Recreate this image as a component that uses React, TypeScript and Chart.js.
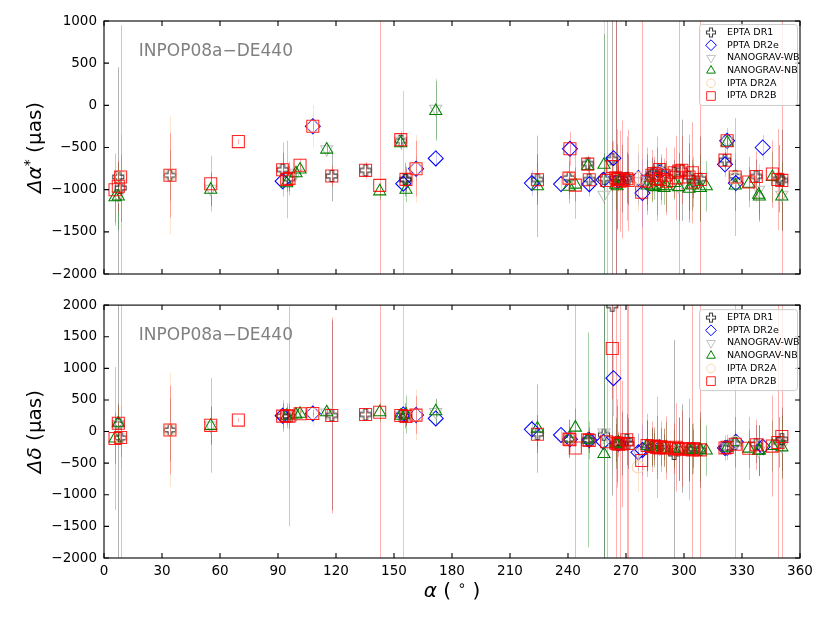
import React, { useEffect, useRef } from "react";
import { Chart, registerables } from "chart.js";
import { drawPoint } from "chart.js/helpers";

Chart.register(...registerables);

// right ascension (deg), delta alpha* / delta delta (uas) and 1-sigma errors per PTA

const raEPTA = [7.4, 8.6, 34.1, 92.4, 95.7, 117.8, 135.3, 153.5, 155.7, 156.2, 224.2, 240.5, 250.2, 251.0, 258.6, 262.9, 264.7, 266.1, 267.9, 270.4, 271.1, 280.9, 283.4, 284.4, 287.4, 287.9, 289.7, 294.9, 298.9, 302.6, 304.9, 308.4, 321.2, 326.5, 337.4, 349.3, 350.6];
const daEPTA = [-850, -980, -830, -763, -870, -838, -771, -420, -880, -880, -880, -860, -690, -880, -870, -640, -860, -860, -870, -860, -880, -880, -820, -800, -760, -870, -830, -800, -770, -850, -900, -870, -650, -840, -843, -870, -890];
const daErrEPTA = [1300, 400, 300, 200, 150, 300, 80, 80, 200, 150, 300, 200, 80, 150, 300, 1700, 2000, 100, 400, 300, 300, 300, 200, 150, 40, 250, 150, 150, 600, 400, 200, 500, 100, 200, 200, 400, 600];
const ddEPTA = [120, -100, 25, 244, 240, 255, 270, 260, 250, 240, -40, -120, -130, -140, -50, 1990, -180, -200, -190, -130, -190, -220, -240, -230, -260, -240, -250, -355, -270, -280, -270, -290, -260, -190, -200, -170, -120];
const ddErrEPTA = [4000, 300, 500, 200, 200, 1500, 80, 80, 200, 150, 300, 200, 100, 200, 4000, 3000, 300, 100, 500, 400, 400, 400, 300, 200, 40, 300, 200, 1800, 700, 500, 300, 600, 100, 200, 300, 400, 500];

const raPPTA = [92.4, 108.0, 154.8, 161.4, 171.6, 221.3, 236.4, 241.0, 251.0, 258.3, 263.5, 266.1, 276.4, 278.5, 287.4, 321.2, 322.3, 326.8, 340.7];
const daPPTA = [-900, -249, -929, -751, -630, -922, -934, -515, -935, -883, -626, -890, -863, -1040, -800, -700, -421, -922, -500];
const daErrPPTA = [100, 30, 1100, 150, 100, 150, 100, 50, 100, 40, 200, 40, 300, 400, 20, 50, 50, 50, 150];
const ddPPTA = [250, 286, 270, 260, 208, 36, -53, -120, -135, -160, 844, -190, -328, -290, -250, -260, -255, -162, -240];
const ddErrPPTA = [100, 30, 3000, 150, 100, 150, 100, 50, 100, 40, 600, 40, 300, 400, 20, 50, 50, 50, 150];

const raWB = [7.4, 55.2, 99.3, 115.2, 153.5, 171.6, 258.6, 262.9, 276.4, 287.4, 297.3, 322.3, 338.6, 350.6];
const daWB = [-1070, -990, -800, -520, -420, -40, -1060, -860, -900, -940, -960, -420, -1000, -1060];
const daErrWB = [400, 200, 80, 60, 80, 355, 3000, 400, 300, 30, 400, 80, 300, 400];
const ddWB = [120, 95, 270, 300, 255, 310, -16, -200, -330, -260, -275, -250, -300, -230];
const ddErrWB = [300, 300, 100, 80, 100, 200, 4000, 500, 300, 30, 500, 100, 400, 500];

const raNB = [5.7, 7.4, 55.2, 94.5, 99.3, 101.4, 115.2, 142.6, 153.5, 156.2, 171.6, 224.2, 240.5, 243.8, 250.2, 258.6, 264.7, 265.4, 266.1, 280.9, 283.4, 284.4, 285.9, 287.4, 289.7, 290.9, 294.9, 297.3, 302.6, 304.3, 308.4, 311.5, 322.3, 326.5, 333.5, 338.6, 339.0, 345.7, 350.6];
const daNB = [-1090, -1080, -1000, -925, -806, -760, -525, -1020, -450, -1000, -67, -960, -965, -940, -720, -705, -940, -960, -900, -950, -950, -970, -900, -960, -980, -960, -920, -970, -990, -950, -980, -960, -440, -950, -930, -1060, -1080, -850, -1080];
const daErrNB = [300, 400, 200, 100, 80, 60, 60, 100, 80, 150, 355, 600, 200, 200, 60, 1550, 300, 500, 100, 300, 200, 150, 400, 30, 200, 300, 200, 400, 400, 300, 400, 300, 80, 300, 200, 300, 300, 300, 400];
const ddNB = [-110, 130, 90, 250, 270, 281, 306, 306, 250, 270, 320, 47, -110, 62, -131, -355, -190, -200, -180, -230, -250, -270, -250, -270, -260, -250, -270, -280, -290, -280, -290, -300, -255, -170, -270, -305, -300, -230, -250];
const ddErrNB = [400, 300, 300, 150, 100, 60, 80, 150, 100, 300, 200, 700, 300, 300, 1700, 4000, 400, 600, 150, 400, 300, 300, 500, 30, 300, 400, 300, 500, 500, 400, 500, 400, 100, 400, 300, 400, 400, 400, 500];

const raDR2A = [8.6, 34.1, 108.0, 161.4, 240.5, 276.3, 287.4, 326.5];
const daDR2A = [-850, -830, -249, -751, -860, -860, -800, -860];
const daErrDR2A = [500, 700, 250, 400, 300, 400, 60, 300];
const ddDR2A = [-94, 25, 286, 260, -120, -560, -250, -170];
const ddErrDR2A = [500, 900, 200, 400, 300, 400, 60, 300];

const raDR2B = [5.7, 7.4, 8.6, 34.1, 55.2, 69.5, 92.4, 94.5, 95.7, 101.4, 108.0, 117.8, 135.3, 142.6, 153.5, 156.2, 161.4, 224.2, 240.5, 241.0, 243.8, 250.2, 251.0, 260.0, 262.9, 264.7, 265.4, 266.1, 266.9, 267.9, 270.4, 271.1, 278.1, 280.9, 283.4, 284.4, 285.9, 287.4, 287.9, 289.7, 290.9, 294.9, 296.0, 297.3, 298.9, 302.6, 304.3, 304.9, 308.4, 321.2, 322.3, 326.5, 333.5, 337.4, 345.7, 348.5, 350.6];
const daDR2B = [-1000, -960, -850, -830, -930, -430, -763, -880, -866, -711, -249, -838, -771, -949, -407, -878, -751, -883, -863, -515, -946, -697, -883, -890, -725, -860, -880, -870, -900, -880, -870, -890, -1030, -900, -830, -810, -870, -760, -880, -830, -900, -800, -860, -780, -770, -850, -800, -910, -880, -650, -420, -850, -910, -843, -815, -880, -890];
const daErrDR2B = [430, 300, 1800, 500, 330, 30, 320, 460, 200, 80, 60, 120, 100, 3500, 100, 120, 330, 200, 250, 200, 400, 100, 200, 2500, 300, 2500, 600, 150, 600, 700, 500, 600, 2500, 400, 300, 200, 500, 50, 300, 200, 400, 300, 500, 2500, 400, 500, 600, 300, 2500, 200, 150, 700, 300, 300, 400, 600, 2500];
const ddDR2B = [-110, 130, -94, 25, 98, 181, 244, 250, 244, 281, 286, 255, 270, 306, 255, 240, 260, -42, -120, -130, -261, -131, -140, -162, 1313, -180, -190, -200, -185, -195, -130, -190, -459, -220, -240, -230, -250, -260, -240, -250, -260, -270, -250, -280, -270, -280, -290, -270, -290, -261, -250, -200, -265, -210, -230, -172, -78];
const ddErrDR2B = [1130, 300, 4000, 700, 750, 30, 250, 200, 1740, 80, 60, 1550, 100, 4500, 100, 150, 300, 200, 300, 200, 4000, 150, 300, 4000, 800, 4000, 700, 200, 4000, 1000, 4000, 4000, 4000, 500, 400, 300, 800, 50, 400, 300, 500, 400, 700, 500, 600, 800, 4000, 400, 4000, 200, 200, 4000, 500, 400, 800, 4000, 4000];

const xTicksMax = 360;
const annotation = "INPOP08a\u2212DE440";

type Series = {
  label: string;
  ra: number[];
  da: number[];
  daErr: number[];
  dd: number[];
  ddErr: number[];
  color: string;
  errColor: string;
  style: string;
  radius: number;
  rotation: number;
};

const series: Series[] = [
  { label: "EPTA DR1", ra: raEPTA, da: daEPTA, daErr: daErrEPTA, dd: ddEPTA, ddErr: ddErrEPTA, color: "rgba(30,30,30,0.85)", errColor: "rgba(0,0,0,0.3)", style: "plus", radius: 5.5, rotation: 0 },
  { label: "PPTA DR2e", ra: raPPTA, da: daPPTA, daErr: daErrPPTA, dd: ddPPTA, ddErr: ddErrPPTA, color: "#0000ff", errColor: "rgba(0,0,255,0.2)", style: "rectRot", radius: 7.5, rotation: 0 },
  { label: "NANOGRAV-WB", ra: raWB, da: daWB, daErr: daErrWB, dd: ddWB, ddErr: ddErrWB, color: "#c0c0c0", errColor: "rgba(150,150,150,0.35)", style: "triangle", radius: 7, rotation: 180 },
  { label: "NANOGRAV-NB", ra: raNB, da: daNB, daErr: daErrNB, dd: ddNB, ddErr: ddErrNB, color: "#008000", errColor: "rgba(0,128,0,0.35)", style: "triangle", radius: 7, rotation: 0 },
  { label: "IPTA DR2A", ra: raDR2A, da: daDR2A, daErr: daErrDR2A, dd: ddDR2A, ddErr: ddErrDR2A, color: "#f9d6ae", errColor: "rgba(245,200,150,0.45)", style: "circle", radius: 6, rotation: 0 },
  { label: "IPTA DR2B", ra: raDR2B, da: daDR2B, daErr: daErrDR2B, dd: ddDR2B, ddErr: ddErrDR2B, color: "rgba(255,0,0,0.85)", errColor: "rgba(255,0,0,0.3)", style: "rect", radius: 8.5, rotation: 0 },
];

function plusMarker(size: number, color: string) {
  const c = document.createElement("canvas");
  c.width = c.height = size + 3;
  const g = c.getContext("2d")!;
  const m = (size + 3) / 2;
  const h = size / 2;
  const a = size / 6;
  const pts = [[-a, -h], [a, -h], [a, -a], [h, -a], [h, a], [a, a], [a, h], [-a, h], [-a, a], [-h, a], [-h, -a], [-a, -a]];
  g.beginPath();
  pts.forEach(([px, py], i) => (i ? g.lineTo(m + px, m + py) : g.moveTo(m + px, m + py)));
  g.closePath();
  g.strokeStyle = color;
  g.lineWidth = 1.1;
  g.stroke();
  return c;
}

const FONT = "'DejaVu Sans', sans-serif";

function drawParts(ctx: CanvasRenderingContext2D, parts: { t: string; it?: boolean; sup?: boolean }[], size: number) {
  const fontFor = (p: { it?: boolean; sup?: boolean }) => `${p.it ? "italic " : ""}${p.sup ? size * 0.7 : size}px ${FONT}`;
  let total = 0;
  parts.forEach((p) => {
    ctx.font = fontFor(p);
    total += ctx.measureText(p.t).width;
  });
  let x = -total / 2;
  ctx.textBaseline = "middle";
  ctx.textAlign = "left";
  parts.forEach((p) => {
    ctx.font = fontFor(p);
    ctx.fillText(p.t, x, p.sup ? -size * 0.3 : 0);
    x += ctx.measureText(p.t).width;
  });
}

const panelPlugin = {
  id: "panel",
  beforeDatasetsDraw(chart: any) {
    const { ctx, chartArea, scales } = chart;
    ctx.save();
    ctx.beginPath();
    ctx.rect(chartArea.left, chartArea.top, chartArea.right - chartArea.left, chartArea.bottom - chartArea.top);
    ctx.clip();
    ctx.lineWidth = 1;
    chart.data.datasets.forEach((ds: any) => {
      ctx.strokeStyle = ds.errColor;
      ds.data.forEach((p: { x: number; y: number }, j: number) => {
        const e = ds.errors[j];
        const x = Math.round(scales.x.getPixelForValue(p.x)) + 0.5;
        ctx.beginPath();
        ctx.moveTo(x, scales.y.getPixelForValue(p.y - e));
        ctx.lineTo(x, scales.y.getPixelForValue(p.y + e));
        ctx.stroke();
      });
    });
    ctx.restore();
  },
  afterDraw(chart: any) {
    const { ctx, chartArea: ca, scales } = chart;
    const opts = chart.options.plugins.panel;
    ctx.save();
    // frame
    ctx.strokeStyle = "#000";
    ctx.lineWidth = 1.1;
    ctx.strokeRect(ca.left, ca.top, ca.right - ca.left, ca.bottom - ca.top);
    // inward ticks on all sides
    const tl = 5;
    ctx.beginPath();
    scales.x.ticks.forEach((t: any) => {
      const x = scales.x.getPixelForValue(t.value);
      ctx.moveTo(x, ca.bottom);
      ctx.lineTo(x, ca.bottom - tl);
      ctx.moveTo(x, ca.top);
      ctx.lineTo(x, ca.top + tl);
    });
    scales.y.ticks.forEach((t: any) => {
      const y = scales.y.getPixelForValue(t.value);
      ctx.moveTo(ca.left, y);
      ctx.lineTo(ca.left + tl, y);
      ctx.moveTo(ca.right, y);
      ctx.lineTo(ca.right - tl, y);
    });
    ctx.stroke();

    // annotation
    ctx.fillStyle = "#808080";
    ctx.font = `17px ${FONT}`;
    ctx.textAlign = "left";
    ctx.textBaseline = "middle";
    ctx.fillText(annotation, ca.left + 0.05 * (ca.right - ca.left), ca.top + 0.12 * (ca.bottom - ca.top));

    // legend
    const lx = ca.right - 101;
    const ly = ca.top + opts.legendTop;
    const lw = 98;
    const lh = 81;
    ctx.fillStyle = "rgba(255,255,255,0.8)";
    ctx.strokeStyle = "#cccccc";
    ctx.lineWidth = 1;
    ctx.beginPath();
    ctx.roundRect(lx + 0.5, ly + 0.5, lw, lh, 3);
    ctx.fill();
    ctx.stroke();
    series.forEach((s, i) => {
      const y = ly + 8.5 + i * 12.7;
      const mx = lx + 12;
      ctx.strokeStyle = s.color;
      ctx.fillStyle = "rgba(0,0,0,0)";
      if (s.style === "plus") {
        const img = plusMarker(9, s.color);
        ctx.drawImage(img, mx - img.width / 2, y - img.height / 2);
      } else {
        drawPoint(ctx, { pointStyle: s.style as any, rotation: s.rotation, radius: s.radius * 0.72, borderWidth: 1 } as any, mx, y);
      }
      ctx.fillStyle = "#000";
      ctx.font = `9.5px ${FONT}`;
      ctx.textAlign = "left";
      ctx.textBaseline = "middle";
      ctx.fillText(s.label, lx + 28, y);
    });

    // axis titles
    ctx.fillStyle = "#000";
    ctx.save();
    ctx.translate(36, (ca.top + ca.bottom) / 2);
    ctx.rotate(-Math.PI / 2);
    drawParts(ctx, opts.yTitle, 20);
    ctx.restore();
    if (opts.xTitle) {
      ctx.save();
      ctx.translate((ca.left + ca.right) / 2, ca.bottom + 34);
      drawParts(ctx, opts.xTitle, 20);
      ctx.restore();
    }
    ctx.restore();
  },
};

type PanelProps = {
  field: "da" | "dd";
  yMin: number;
  yMax: number;
  height: number;
  padTop: number;
  xAxisHeight: number;
  showX: boolean;
  legendTop: number;
  yTitle: { t: string; it?: boolean; sup?: boolean }[];
  xTitle?: { t: string; it?: boolean; sup?: boolean }[];
};

const Panel = ({ field, yMin, yMax, height, padTop, xAxisHeight, showX, legendTop, yTitle, xTitle }: PanelProps) => {
  const chartRef = useRef<HTMLCanvasElement | null>(null);
  useEffect(() => {
    if (!chartRef.current) return;
    const plus = plusMarker(11, series[0].color);
    const datasets = series.map((s, i) => {
      const vals = field === "da" ? s.da : s.dd;
      const errs = field === "da" ? s.daErr : s.ddErr;
      return {
        label: s.label,
        data: s.ra.map((x, j) => ({ x, y: vals[j] })),
        errors: errs,
        errColor: s.errColor,
        pointStyle: s.style === "plus" ? plus : s.style,
        rotation: s.rotation,
        pointRadius: s.radius,
        pointBorderWidth: 1.05,
        pointBorderColor: s.color,
        pointBackgroundColor: "rgba(0,0,0,0)",
        showLine: false,
        order: series.length - i,
      };
    });
    const chart = new Chart(chartRef.current, {
      type: "scatter",
      data: { datasets } as any,
      plugins: [panelPlugin as any],
      options: {
        animation: false,
        responsive: false,
        maintainAspectRatio: false,
        events: [],
        layout: { padding: { left: 0, right: 30, top: padTop, bottom: 0 } },
        plugins: {
          legend: { display: false },
          tooltip: { enabled: false },
          panel: { legendTop, yTitle, xTitle },
        } as any,
        scales: {
          x: {
            type: "linear",
            min: 0,
            max: xTicksMax,
            ticks: { stepSize: 30, display: showX, color: "#000", padding: 5, font: { family: FONT, size: 13.5 } },
            grid: { display: false, drawTicks: false },
            border: { display: false },
            afterFit: (s: any) => {
              s.height = xAxisHeight;
            },
          },
          y: {
            type: "linear",
            min: yMin,
            max: yMax,
            ticks: {
              stepSize: 500,
              color: "#000",
              padding: 7,
              font: { family: FONT, size: 13.5 },
              callback: (v: any) => String(v).replace("-", "\u2212"),
            },
            grid: { display: false, drawTicks: false },
            border: { display: false },
            afterFit: (s: any) => {
              s.width = 104;
            },
          },
        },
      } as any,
    });
    return () => {
      chart.destroy();
    };
  }, []);
  return <canvas ref={chartRef} width={830} height={height} style={{ display: "block" }} />;
};

const App = () => {
  return (
    <div style={{ position: "absolute", left: 0, top: 0, width: 830, height: 623, background: "#fff" }}>
      <Panel
        field="da"
        yMin={-2000}
        yMax={1000}
        height={290}
        padTop={21}
        xAxisHeight={16}
        showX={false}
        legendTop={3}
        yTitle={[{ t: "\u0394\u03b1", it: true }, { t: "*", sup: true }, { t: " (\u03bcas)" }]}
      />
      <Panel
        field="dd"
        yMin={-2000}
        yMax={2000}
        height={333}
        padTop={15}
        xAxisHeight={65}
        showX={true}
        legendTop={4}
        yTitle={[{ t: "\u0394\u03b4", it: true }, { t: " (\u03bcas)" }]}
        xTitle={[{ t: "\u03b1", it: true }, { t: " ( " }, { t: "\u2218", sup: true }, { t: " )" }]}
      />
    </div>
  );
};

export default App;
